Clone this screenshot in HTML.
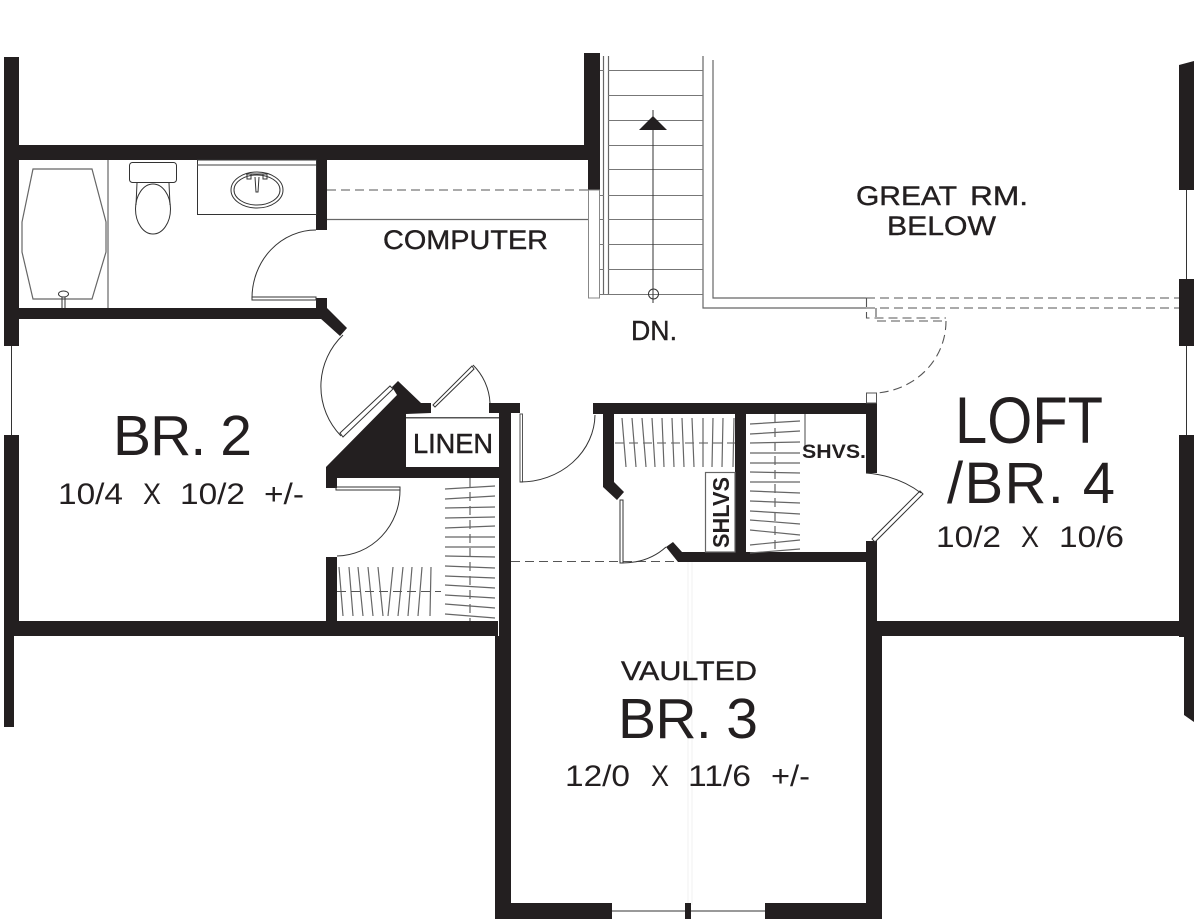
<!DOCTYPE html>
<html><head><meta charset="utf-8"><style>
html,body{margin:0;padding:0;background:#fff}
svg{display:block}
text{font-family:"Liberation Sans",sans-serif;fill:#231f20}
.w{fill:#231f20}
.t{fill:none;stroke:#333;stroke-width:1}
.g{fill:none;stroke:#666;stroke-width:1.2}
.d{fill:none;stroke:#555;stroke-width:1.1;stroke-dasharray:9 5}
.l{stroke:#231f20;stroke-width:.4}
</style></head><body>
<svg width="1200" height="923" viewBox="0 0 1200 923" xmlns="http://www.w3.org/2000/svg">
<rect width="1200" height="923" fill="#fff"/>
<path d="M688 562V905M692 562V905" stroke="#f0f0f0" fill="none"/>
<!-- walls -->
<g class="w">
<rect x="4" y="57" width="15" height="289"/>
<rect x="4" y="435" width="15" height="201"/>
<rect x="4" y="630" width="10" height="97"/>
<rect x="19" y="145" width="581" height="15"/>
<rect x="584" y="53" width="16" height="92"/>
<rect x="588" y="145" width="12" height="45"/>
<rect x="316" y="160" width="11" height="70"/>
<rect x="19" y="308" width="308" height="11"/>
<rect x="316" y="298" width="11" height="21"/>
<polygon points="327,308 347,328 340,336 320,318"/>
<rect x="4" y="621" width="494" height="15"/>
<rect x="499" y="403" width="12" height="233"/>
<rect x="495" y="636" width="16" height="283"/>
<rect x="495" y="903" width="117" height="16"/>
<rect x="765" y="903" width="117" height="16"/>
<rect x="866" y="636" width="16" height="283"/>
<rect x="685" y="903" width="6" height="16"/>
<rect x="489" y="403" width="31" height="10"/>
<rect x="593" y="403" width="284" height="11"/>
<polygon points="603,413 603,487 617,500 624,492 614,482 614,413"/>
<rect x="735" y="413" width="11" height="149"/>
<rect x="678" y="552" width="199" height="10"/>
<polygon points="666,547 673,542 682,552 678,562"/>
<rect x="866" y="403" width="11" height="70"/>
<rect x="866" y="541" width="11" height="95"/>
<rect x="877" y="621" width="310" height="15"/>
<polygon points="1179,65 1194,61 1194,190 1179,190"/>
<rect x="1179" y="279" width="15" height="67"/>
<rect x="1179" y="435" width="15" height="202"/>
<polygon points="1184,630 1194,630 1194,722 1184,715"/>
<polygon points="326,467 397,395 392,387 398,381 421,403 431,403 431,413 406,414 406,467 499,467 499,478 337,478 337,488 326,488"/>
<rect x="326" y="557" width="11" height="66"/>
</g>
<path class="t" d="M11.5 346V435M1186.5 190V279M1186.5 346V435" stroke="#444"/>
<path class="t" d="M612 911H685M691 911H765" stroke-width="1.2"/>
<!-- linen -->
<rect x="406" y="417" width="93" height="1.5" fill="#555"/>
<!-- shelf -->
<path class="d" d="M327 190H588"/>
<path class="g" d="M327 219.5H588"/>
<!-- bath -->
<polygon class="g" points="33,169 92,169 106,222 106,252 92,299 33,299 22,252 22,222"/>
<path class="g" d="M108 160V308"/>
<ellipse class="t" cx="63.5" cy="294" rx="5" ry="3"/>
<path class="t" d="M62 297V308M65 297V308"/>
<rect class="t" x="129.5" y="162.5" width="47" height="20" rx="3"/>
<ellipse class="t" cx="153" cy="209" rx="17.5" ry="25"/>
<path class="t" d="M137 183L136 205M169 183L170 205"/>
<rect class="t" x="197.5" y="160" width="119" height="54.5"/>
<path class="g" d="M197.5 165H316"/>
<ellipse class="t" cx="257" cy="190" rx="26" ry="18"/>
<ellipse class="t" cx="257" cy="190" rx="23" ry="15"/>
<path class="t" d="M246 174H266M255 177L256 192H258L259 177"/>
<rect class="t" x="247" y="174" width="4" height="5"/>
<rect class="t" x="263" y="174" width="4" height="5"/>
<!-- doors -->
<rect class="t" x="252" y="297" width="64" height="3"/>
<path class="t" d="M252 298A64 68 0 0 1 316 230"/>
<path class="t" d="M343 335A71 71 0 0 0 341 436"/>
<path class="t" d="M340 433L390 386L393 389L343 437Z"/>
<path class="t" d="M433 405L472 366L474 369L435 407Z"/>
<path class="t" d="M473 365A57 57 0 0 1 490 403"/>
<rect class="t" x="336" y="487" width="64" height="3"/>
<path class="t" d="M400 490A64 66 0 0 1 337 556"/>
<rect x="520" y="414" width="2.5" height="68" fill="none" stroke="#555"/>
<path class="t" d="M520 482A75 68 0 0 0 595 415"/>
<path class="d" d="M511 561.5H678"/>
<rect class="t" x="620" y="500" width="3" height="63"/>
<path class="t" d="M622 563C640 563 655 557 666 547"/>
<path class="t" d="M866 473C890 475 908 483 921 493"/>
<path class="t" d="M872 539L920 491L923 494L875 542Z"/>
<!-- stairs -->
<path class="g" d="M603.5 56V294M608.5 56V294"/>
<path class="g" d="M703 56V308H866M713 60V298H866"/>
<path fill="none" stroke="#777" d="M608 70.5H703M608 95.5H703M608 120.5H703M608 145.5H703M608 169.5H703M608 195.5H703M608 219.5H703M608 244.5H703M608 269.5H703M600 294.5H703M600 70.5H604M600 195.5H604M600 219.5H604M600 244.5H604M600 269.5H604"/>
<rect x="588.5" y="190" width="11" height="108" fill="none" stroke="#888"/>
<path class="t" d="M653 110V303"/>
<polygon class="w" points="639,130 667,130 653,116"/>
<circle class="t" cx="653.5" cy="294" r="5"/>
<!-- dashed overhead -->
<path class="d" d="M866 298H1179M866 308H1179" stroke-dasharray="10 4"/>
<path class="d" d="M866.5 298V318H946M876 308V321H946" stroke-dasharray="6 3"/>
<path class="d" d="M946 321C946 360 915 390 877 393" stroke-dasharray="9 5"/>
<rect x="866.5" y="393" width="10" height="10" fill="none" stroke="#555"/>
<!-- closet BR2 -->
<path class="g" stroke-width="1" d="M339 567L343 616M349 567L353 616M358 567L363 616M368 567L373 616M378 567L383 616M393 567L388 616M403 567L398 616M412 567L408 616M422 567L418 616M431 567L430 616"/>
<path class="d" stroke-dasharray="11 4" d="M337 591.5H441"/>
<path class="d" stroke-dasharray="11 4" d="M470 478V621"/>
<path class="g" stroke-width="1" d="M445 489L495 486M445 499L495 496M445 508L495 507M445 518L495 517M445 528L495 526M445 537L495 537M445 547L495 547M445 556L495 557M445 566L495 568M445 576L495 578M445 585L495 588M445 595L495 598M445 604L495 608M445 614L495 618"/>
<!-- closet mid -->
<path class="d" stroke-dasharray="11 4" d="M615 443H735"/>
<path class="g" stroke-width="1" d="M622 418L626 467M632 418L636 467M642 418L646 467M652 418L655 467M662 418L664 467M672 418L674 467M682 418L684 467M692 418L694 467M703 418L703 467M713 418L712 467M723 418L722 467M734 418L733 467"/>
<rect class="g" x="705.5" y="472.5" width="29.5" height="79.5" stroke-width="1"/>
<!-- closet right -->
<path class="d" stroke-dasharray="11 4" d="M775 414V552"/>
<path class="g" stroke-width="1" d="M750 424L800 421M750 434L800 431M750 443L800 442M750 453L800 453M750 463L800 463M750 472L800 473M750 482L800 482M750 491L800 493M750 501L800 503M750 511L800 514M750 520L800 524M750 530L800 535M750 545L800 540M750 553L800 549"/>
<path class="g" stroke-width="1" d="M805 414V450"/>
<!-- text -->
<text class="l" x="383" y="249" font-size="27" textLength="165" lengthAdjust="spacingAndGlyphs">COMPUTER</text>
<text class="l" x="856" y="205" font-size="27" textLength="101" lengthAdjust="spacingAndGlyphs">GREAT</text>
<text class="l" x="970" y="205" font-size="27" textLength="58" lengthAdjust="spacingAndGlyphs">RM.</text>
<text class="l" x="887" y="235" font-size="27" textLength="109" lengthAdjust="spacingAndGlyphs">BELOW</text>
<text class="l" x="631" y="340" font-size="28" textLength="46" lengthAdjust="spacingAndGlyphs">DN.</text>
<text x="413" y="453" font-size="28" textLength="80" lengthAdjust="spacingAndGlyphs" stroke="#231f20" stroke-width=".5">LINEN</text>
<text x="113" y="455" font-size="57" textLength="139" lengthAdjust="spacing">BR. 2</text>
<g font-size="30">
<text x="58" y="504" textLength="65" lengthAdjust="spacingAndGlyphs">10/4</text>
<text x="143" y="504" textLength="18" lengthAdjust="spacingAndGlyphs">X</text>
<text x="180" y="504" textLength="65" lengthAdjust="spacingAndGlyphs">10/2</text>
<text x="264" y="504" textLength="40" lengthAdjust="spacingAndGlyphs">+/-</text>
<text x="936" y="547" textLength="65" lengthAdjust="spacingAndGlyphs">10/2</text>
<text x="1021" y="547" textLength="18" lengthAdjust="spacingAndGlyphs">X</text>
<text x="1059" y="547" textLength="65" lengthAdjust="spacingAndGlyphs">10/6</text>
<text x="565" y="786" textLength="65" lengthAdjust="spacingAndGlyphs">12/0</text>
<text x="651" y="786" textLength="18" lengthAdjust="spacingAndGlyphs">X</text>
<text x="688" y="786" textLength="63" lengthAdjust="spacingAndGlyphs">11/6</text>
<text x="771" y="786" textLength="39" lengthAdjust="spacingAndGlyphs">+/-</text>
</g>
<text x="955" y="443" font-size="66" textLength="148" lengthAdjust="spacingAndGlyphs">LOFT</text>
<text x="947" y="503" font-size="58" textLength="168" lengthAdjust="spacing">/BR. 4</text>
<text class="l" x="621" y="680" font-size="27" textLength="136" lengthAdjust="spacingAndGlyphs">VAULTED</text>
<text x="618" y="738" font-size="57" textLength="140" lengthAdjust="spacing">BR. 3</text>
<text x="802" y="458" font-size="19" font-weight="bold" textLength="64" lengthAdjust="spacingAndGlyphs">SHVS.</text>
<text transform="translate(729,548) rotate(-90)" font-size="23" font-weight="bold" textLength="71" lengthAdjust="spacingAndGlyphs">SHLVS</text>
</svg>
</body></html>
